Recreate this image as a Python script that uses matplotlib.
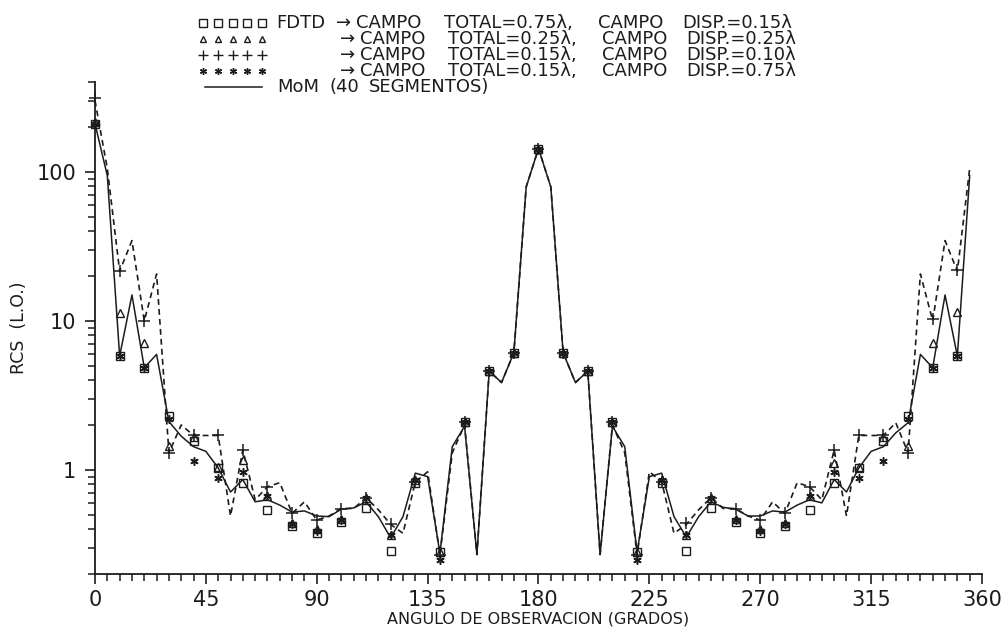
import matplotlib
matplotlib.use('Agg')
import matplotlib.pyplot as plt
import numpy as np

plt.rcParams['font.family'] = ['DejaVu Sans']

# angles for the line series (every 5 deg) and the markers (every 10 deg)
ang_line = list(range(0, 360, 5))
ang_mark = list(range(0, 360, 10))

mom = [210, 94, 5.8, 14.9, 4.84, 5.95, 2.11, 1.68, 1.43, 1.33,
       1.03, 0.71, 0.86, 0.61, 0.63, 0.58, 0.52, 0.53, 0.49, 0.485,
       0.545, 0.555, 0.61, 0.485, 0.35, 0.485, 0.95, 0.90, 0.275, 1.43,
       1.96, 0.27, 4.6, 3.85, 6.1, 79, 143, 79, 6.1, 3.85,
       4.6, 0.27, 1.96, 1.43, 0.28, 0.90, 0.95, 0.485, 0.354, 0.485,
       0.61, 0.56, 0.545, 0.49, 0.49, 0.53, 0.52, 0.58, 0.63, 0.60,
       0.86, 0.71, 1.03, 1.33, 1.43, 1.77, 2.07, 5.95, 4.84, 14.9,
       5.8, 94]

fdtd_dash = [300, 105, 21.5, 34.5, 10, 20.6, 1.3, 2.0, 1.7, 1.7,
             1.7, 0.49, 1.36, 0.63, 0.77, 0.82, 0.51, 0.61, 0.46, 0.49,
             0.55, 0.55, 0.65, 0.54, 0.43, 0.375, 0.83, 0.97, 0.27, 1.3,
             2.0, 0.27, 4.6, 3.85, 6.1, 79, 143, 79, 6.1, 3.85,
             4.6, 0.27, 2.0, 1.3, 0.27, 0.97, 0.83, 0.375, 0.43, 0.54,
             0.65, 0.55, 0.55, 0.49, 0.46, 0.61, 0.51, 0.82, 0.77, 0.63,
             1.36, 0.49, 1.7, 1.7, 1.7, 2.07, 1.3, 20.6, 10, 34.5,
             21.5, 105]

sq = [210, 5.8, 4.84, 2.29, 1.55, 1.03, 0.82, 0.54, 0.42, 0.376,
      0.445, 0.555, 0.286, 0.82, 0.28, 2.1, 4.6, 6.1, 143, 6.1,
      4.6, 2.1, 0.28, 0.82, 0.286, 0.555, 0.445, 0.376, 0.42, 0.54,
      0.82, 1.03, 1.55, 2.29, 4.84, 5.8]
tri = [215, 11.2, 7.05, 1.45, 1.67, 1.05, 1.17, 0.67, 0.44, 0.40,
       0.47, 0.65, 0.365, 0.85, 0.28, 2.1, 4.6, 6.1, 143, 6.1,
       4.6, 2.1, 0.28, 0.85, 0.365, 0.65, 0.47, 0.40, 0.44, 0.67,
       1.11, 1.05, 1.67, 1.45, 7.1, 11.4]
plus = [310, 21.5, 10, 1.3, 1.7, 1.7, 1.36, 0.77, 0.51, 0.46,
        0.55, 0.65, 0.43, 0.83, 0.27, 2.1, 4.6, 6.1, 143, 6.1,
        4.6, 2.1, 0.27, 0.83, 0.44, 0.65, 0.55, 0.46, 0.51, 0.77,
        1.36, 1.7, 1.7, 1.3, 10.2, 21.9]
star = [210, 5.8, 4.84, 2.2, 1.14, 0.88, 0.97, 0.67, 0.43, 0.39,
        0.46, 0.65, 0.365, 0.85, 0.25, 2.1, 4.6, 6.1, 143, 6.1,
        4.6, 2.1, 0.25, 0.85, 0.365, 0.65, 0.46, 0.39, 0.43, 0.67,
        0.97, 0.88, 1.14, 2.2, 4.84, 5.8]

total_lbl = ['0.75\u03bb', '0.25\u03bb', '0.15\u03bb', '0.15\u03bb']
disp_lbl = ['0.15\u03bb', '0.25\u03bb', '0.10\u03bb', '0.75\u03bb']
mom_words = ['MoM', '(40', 'SEGMENTOS)']

ink = '#1c1c1c'
W, H = 1004, 631

fig = plt.figure(figsize=(W / 100, H / 100), dpi=100)
ax = fig.add_axes([95 / W, 1 - 574 / H, (982 - 95) / W, (574 - 82) / H])

ax.plot(ang_line, mom, '-', color=ink, lw=1.1)
ax.plot(ang_line, fdtd_dash, color=ink, lw=1.2, ls=(0, (3.5, 2.5)))

asterisk = (6, 2, 0)
mk = dict(ls='none', color=ink, mfc='none', clip_on=False)
ax.plot(ang_mark, sq, marker='s', ms=6, mew=1.0, **mk)
ax.plot(ang_mark, tri, marker='^', ms=6, mew=1.0, **mk)
ax.plot(ang_mark, plus, marker='+', ms=9, mew=1.1, **mk)
ax.plot(ang_mark, star, marker=asterisk, ms=6, mew=1.1, **mk)

ax.set_yscale('log')
ax.set_ylim(0.2, 400)
ax.set_xlim(0, 360)
ax.set_xticks(np.arange(0, 361, 45))
ax.set_xticks(np.arange(0, 361, 5), minor=True)
ax.set_yticks([1, 10, 100])
ax.set_yticklabels(['1', '10', '100'])

for s in ['top', 'right']:
    ax.spines[s].set_visible(False)
for s in ['left', 'bottom']:
    ax.spines[s].set_linewidth(1.3)
    ax.spines[s].set_color(ink)

ax.tick_params(which='major', direction='out', length=7.5, width=1.2,
               color=ink, labelsize=15, labelcolor=ink, pad=4)
ax.tick_params(axis='y', which='major', pad=6)
ax.tick_params(which='minor', direction='out', length=5, width=1.1, color=ink)

ax.set_xlabel('ANGULO DE OBSERVACION (GRADOS)', fontsize=11.5, color=ink, labelpad=1)
ax.set_ylabel('RCS  (L.O.)', fontsize=12.5, color=ink, labelpad=6)

# legend block at the top
rows = [23, 39, 55, 71, 87]
xs = [203, 218, 233, 247, 262]
samples = [('s', 5.5), ('^', 5), ('+', 7), (asterisk, 5)]
for (m, size), py in zip(samples, rows[:4]):
    fig.add_artist(plt.Line2D([x / W for x in xs], [1 - py / H] * 5,
                              ls='none', marker=m, ms=size, mew=1.0,
                              color=ink, mfc='none'))
fig.add_artist(plt.Line2D([205 / W, 262 / W], [1 - rows[4] / H] * 2,
                          color=ink, lw=1.1))


def put(px, py, s):
    fig.text(px / W, 1 - py / H, s, fontsize=13, color=ink,
             ha='left', va='center')


put(276, rows[0], 'FDTD')
for i in range(4):
    dx = 0 if i == 0 else 4
    py = rows[i]
    put(336 + dx, py, '\u2192')
    put(356 + dx, py, 'CAMPO')
    put(444 + dx, py, 'TOTAL=' + total_lbl[i] + ',')
    put(598 + dx, py, 'CAMPO')
    put(682 + dx, py, 'DISP.=' + disp_lbl[i])
for w, px in zip(mom_words, [277, 330, 369]):
    put(px, rows[4], w)

fig.savefig('out.png', dpi=100)
